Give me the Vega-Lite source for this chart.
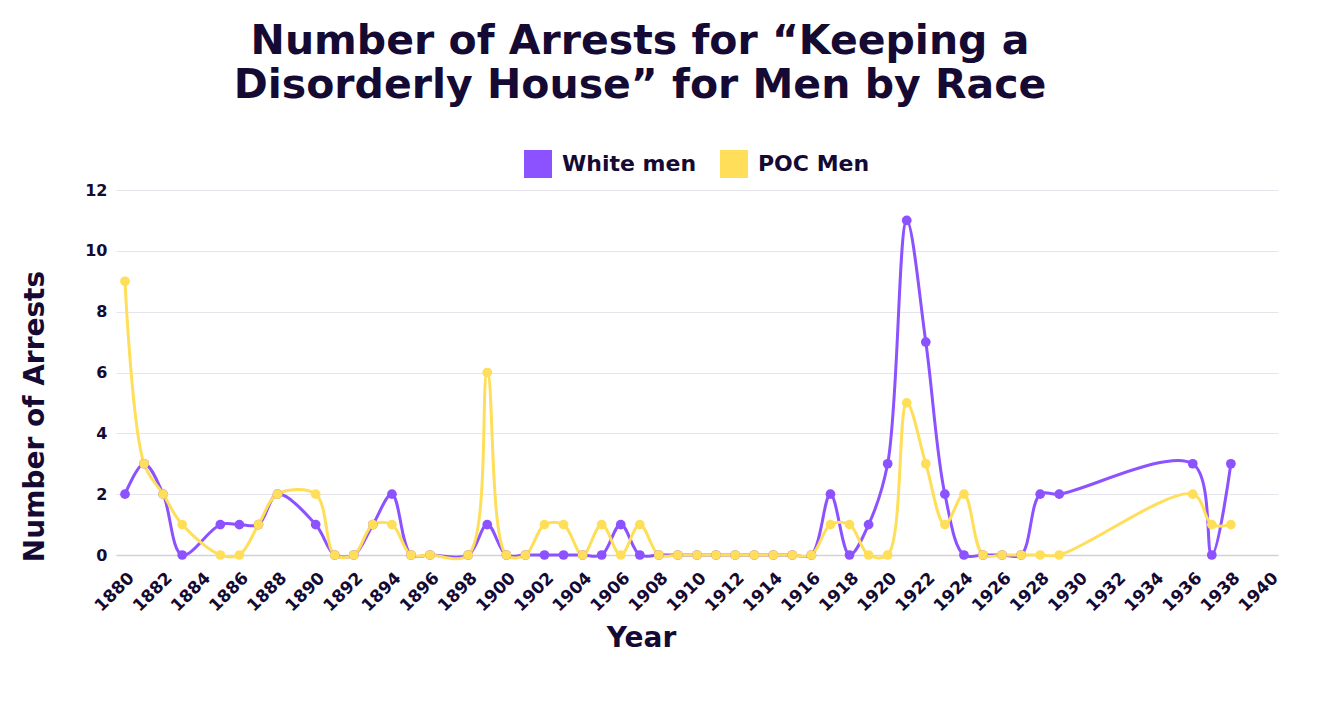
{
  "$schema": "https://vega.github.io/schema/vega-lite/v6.json",
  "width": 1162,
  "height": 365,
  "autosize": {"type": "none"},
  "padding": {"left": 116, "top": 190, "right": 43, "bottom": 160},
  "background": "#ffffff",
  "title": {
    "text": ["Number of Arrests for “Keeping a", "Disorderly House” for Men by Race"],
    "anchor": "middle",
    "frame": "group",
    "orient": "top",
    "baseline": "bottom",
    "dx": -57,
    "offset": 2,
    "font": "DejaVu Sans",
    "fontSize": 41,
    "fontWeight": "bold",
    "lineHeight": 44,
    "color": "#140a33"
  },
  "config": {
    "view": {"stroke": null},
    "font": "DejaVu Sans",
    "axis": {
      "labelFont": "DejaVu Sans",
      "labelFontWeight": "bold",
      "labelColor": "#140a33",
      "titleFont": "DejaVu Sans",
      "titleFontWeight": "bold",
      "titleColor": "#140a33"
    }
  },
  "data": {
    "values": [
      {"year": 1880, "group": "White men", "arrests": 2},
      {"year": 1881, "group": "White men", "arrests": 3},
      {"year": 1882, "group": "White men", "arrests": 2},
      {"year": 1883, "group": "White men", "arrests": 0},
      {"year": 1885, "group": "White men", "arrests": 1},
      {"year": 1886, "group": "White men", "arrests": 1},
      {"year": 1887, "group": "White men", "arrests": 1},
      {"year": 1888, "group": "White men", "arrests": 2},
      {"year": 1890, "group": "White men", "arrests": 1},
      {"year": 1891, "group": "White men", "arrests": 0},
      {"year": 1892, "group": "White men", "arrests": 0},
      {"year": 1893, "group": "White men", "arrests": 1},
      {"year": 1894, "group": "White men", "arrests": 2},
      {"year": 1895, "group": "White men", "arrests": 0},
      {"year": 1896, "group": "White men", "arrests": 0},
      {"year": 1898, "group": "White men", "arrests": 0},
      {"year": 1899, "group": "White men", "arrests": 1},
      {"year": 1900, "group": "White men", "arrests": 0},
      {"year": 1901, "group": "White men", "arrests": 0},
      {"year": 1902, "group": "White men", "arrests": 0},
      {"year": 1903, "group": "White men", "arrests": 0},
      {"year": 1904, "group": "White men", "arrests": 0},
      {"year": 1905, "group": "White men", "arrests": 0},
      {"year": 1906, "group": "White men", "arrests": 1},
      {"year": 1907, "group": "White men", "arrests": 0},
      {"year": 1908, "group": "White men", "arrests": 0},
      {"year": 1909, "group": "White men", "arrests": 0},
      {"year": 1910, "group": "White men", "arrests": 0},
      {"year": 1911, "group": "White men", "arrests": 0},
      {"year": 1912, "group": "White men", "arrests": 0},
      {"year": 1913, "group": "White men", "arrests": 0},
      {"year": 1914, "group": "White men", "arrests": 0},
      {"year": 1915, "group": "White men", "arrests": 0},
      {"year": 1916, "group": "White men", "arrests": 0},
      {"year": 1917, "group": "White men", "arrests": 2},
      {"year": 1918, "group": "White men", "arrests": 0},
      {"year": 1919, "group": "White men", "arrests": 1},
      {"year": 1920, "group": "White men", "arrests": 3},
      {"year": 1921, "group": "White men", "arrests": 11},
      {"year": 1922, "group": "White men", "arrests": 7},
      {"year": 1923, "group": "White men", "arrests": 2},
      {"year": 1924, "group": "White men", "arrests": 0},
      {"year": 1925, "group": "White men", "arrests": 0},
      {"year": 1926, "group": "White men", "arrests": 0},
      {"year": 1927, "group": "White men", "arrests": 0},
      {"year": 1928, "group": "White men", "arrests": 2},
      {"year": 1929, "group": "White men", "arrests": 2},
      {"year": 1936, "group": "White men", "arrests": 3},
      {"year": 1937, "group": "White men", "arrests": 0},
      {"year": 1938, "group": "White men", "arrests": 3},
      {"year": 1880, "group": "POC Men", "arrests": 9},
      {"year": 1881, "group": "POC Men", "arrests": 3},
      {"year": 1882, "group": "POC Men", "arrests": 2},
      {"year": 1883, "group": "POC Men", "arrests": 1},
      {"year": 1885, "group": "POC Men", "arrests": 0},
      {"year": 1886, "group": "POC Men", "arrests": 0},
      {"year": 1887, "group": "POC Men", "arrests": 1},
      {"year": 1888, "group": "POC Men", "arrests": 2},
      {"year": 1890, "group": "POC Men", "arrests": 2},
      {"year": 1891, "group": "POC Men", "arrests": 0},
      {"year": 1892, "group": "POC Men", "arrests": 0},
      {"year": 1893, "group": "POC Men", "arrests": 1},
      {"year": 1894, "group": "POC Men", "arrests": 1},
      {"year": 1895, "group": "POC Men", "arrests": 0},
      {"year": 1896, "group": "POC Men", "arrests": 0},
      {"year": 1898, "group": "POC Men", "arrests": 0},
      {"year": 1899, "group": "POC Men", "arrests": 6},
      {"year": 1900, "group": "POC Men", "arrests": 0},
      {"year": 1901, "group": "POC Men", "arrests": 0},
      {"year": 1902, "group": "POC Men", "arrests": 1},
      {"year": 1903, "group": "POC Men", "arrests": 1},
      {"year": 1904, "group": "POC Men", "arrests": 0},
      {"year": 1905, "group": "POC Men", "arrests": 1},
      {"year": 1906, "group": "POC Men", "arrests": 0},
      {"year": 1907, "group": "POC Men", "arrests": 1},
      {"year": 1908, "group": "POC Men", "arrests": 0},
      {"year": 1909, "group": "POC Men", "arrests": 0},
      {"year": 1910, "group": "POC Men", "arrests": 0},
      {"year": 1911, "group": "POC Men", "arrests": 0},
      {"year": 1912, "group": "POC Men", "arrests": 0},
      {"year": 1913, "group": "POC Men", "arrests": 0},
      {"year": 1914, "group": "POC Men", "arrests": 0},
      {"year": 1915, "group": "POC Men", "arrests": 0},
      {"year": 1916, "group": "POC Men", "arrests": 0},
      {"year": 1917, "group": "POC Men", "arrests": 1},
      {"year": 1918, "group": "POC Men", "arrests": 1},
      {"year": 1919, "group": "POC Men", "arrests": 0},
      {"year": 1920, "group": "POC Men", "arrests": 0},
      {"year": 1921, "group": "POC Men", "arrests": 5},
      {"year": 1922, "group": "POC Men", "arrests": 3},
      {"year": 1923, "group": "POC Men", "arrests": 1},
      {"year": 1924, "group": "POC Men", "arrests": 2},
      {"year": 1925, "group": "POC Men", "arrests": 0},
      {"year": 1926, "group": "POC Men", "arrests": 0},
      {"year": 1927, "group": "POC Men", "arrests": 0},
      {"year": 1928, "group": "POC Men", "arrests": 0},
      {"year": 1929, "group": "POC Men", "arrests": 0},
      {"year": 1936, "group": "POC Men", "arrests": 2},
      {"year": 1937, "group": "POC Men", "arrests": 1},
      {"year": 1938, "group": "POC Men", "arrests": 1}
    ]
  },
  "encoding": {
    "x": {
      "field": "year",
      "type": "quantitative",
      "scale": {"domain": [1880, 1940], "nice": false, "zero": false, "padding": 9},
      "axis": {
        "title": "Year",
        "values": [1880, 1882, 1884, 1886, 1888, 1890, 1892, 1894, 1896, 1898, 1900, 1902, 1904, 1906, 1908, 1910, 1912, 1914, 1916, 1918, 1920, 1922, 1924, 1926, 1928, 1930, 1932, 1934, 1936, 1938, 1940],
        "format": "d",
        "grid": false,
        "ticks": false,
        "domain": true,
        "domainColor": "#d3d1db",
        "domainWidth": 1.5,
        "labelAngle": -45,
        "labelAlign": "right",
        "labelBaseline": "middle",
        "labelFontSize": 17,
        "labelPadding": 20,
        "labelOffset": 6,
        "labelOverlap": false,
        "titleFontSize": 28,
        "titleX": 525,
        "titleY": 83,
        "titleBaseline": "middle",
        "titleAnchor": null
      }
    },
    "y": {
      "field": "arrests",
      "type": "quantitative",
      "scale": {"domain": [0, 12], "nice": false},
      "axis": {
        "title": "Number of Arrests",
        "values": [0, 2, 4, 6, 8, 10, 12],
        "grid": true,
        "gridColor": "#e6e5eb",
        "gridWidth": 1.2,
        "ticks": false,
        "domain": false,
        "labelFontSize": 16,
        "labelPadding": 9,
        "titleFontSize": 28,
        "titleX": -81,
        "titleY": 226,
        "titleBaseline": "middle",
        "titleAngle": -90
      }
    },
    "color": {
      "field": "group",
      "type": "nominal",
      "scale": {"domain": ["White men", "POC Men"], "range": ["#8c52ff", "#ffde59"]},
      "legend": {
        "title": null,
        "orient": "none",
        "direction": "horizontal",
        "legendX": 408,
        "legendY": -40,
        "padding": 0,
        "symbolType": "square",
        "symbolSize": 784,
        "symbolStrokeWidth": 0,
        "symbolOpacity": 1,
        "labelFont": "DejaVu Sans",
        "labelFontWeight": "bold",
        "labelFontSize": 22,
        "labelColor": "#140a33",
        "labelOffset": 10,
        "columnPadding": 23
      }
    }
  },
  "layer": [
    {
      "mark": {"type": "line", "interpolate": "catmull-rom", "strokeWidth": 3},
      "encoding": {"detail": {"field": "group"}}
    },
    {
      "mark": {"type": "point", "filled": true, "size": 95, "opacity": 1},
      "encoding": {}
    }
  ]
}
